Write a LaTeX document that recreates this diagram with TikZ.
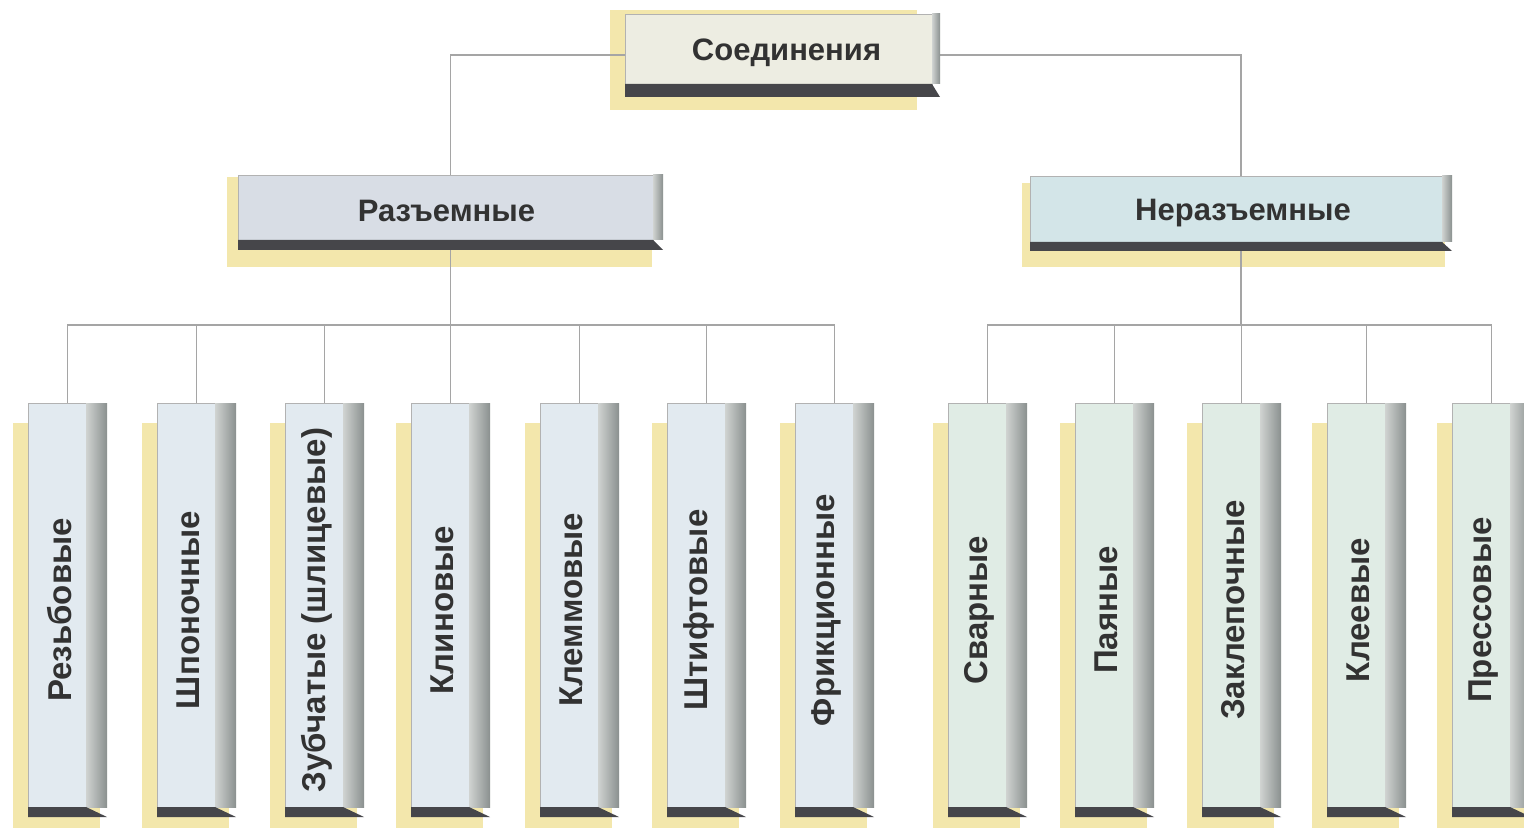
\documentclass[tikz,border=0pt]{standalone}
\usepackage{fontspec}
\setmainfont{Liberation Sans}
\definecolor{shy}{RGB}{243,231,172}
\definecolor{topface}{RGB}{237,237,226}
\definecolor{razface}{RGB}{216,221,229}
\definecolor{nerface}{RGB}{211,229,232}
\definecolor{lface}{RGB}{226,234,240}
\definecolor{rface}{RGB}{224,236,229}
\definecolor{sideL}{RGB}{208,211,209}
\definecolor{sideR}{RGB}{138,144,143}
\definecolor{bev}{RGB}{70,70,74}
\definecolor{connc}{RGB}{165,165,165}
\definecolor{txt}{RGB}{50,50,50}
\pgfdeclarelayer{shadowlayer}
\pgfdeclarelayer{connlayer}
\pgfsetlayers{shadowlayer,connlayer,main}
% #1 name, #2 x1, #3 y1, #4 x2, #5 y2, #6 face colour, #7 side width, #8 bevel height
\newcommand\pbox[8]{%
  \fill[#6, draw=gray!60, line width=0.4pt] (#2,#3) rectangle ({#4-#7},#5);
  \shade[left color=sideL, right color=sideR] ({#4-#7},#3) rectangle (#4,#5);
  \fill[bev] (#2,#5) -- ({#4-#7},#5) -- (#4,{#5+#8}) -- (#2,{#5+#8}) -- cycle;
  \node[inner sep=0pt, minimum width={(#4-#2)*0.5pt}, minimum height={(#5-#3)*0.5pt}] (#1) at ({(#2+#4)/2},{(#3+#5)/2}) {};
}
\newcommand\shad[4]{\begin{pgfonlayer}{shadowlayer}\fill[shy] (#1,#2) rectangle (#3,#4);\end{pgfonlayer}}
\newcommand\colbox[4]{% #1 name, #2 x1, #3 face colour, #4 text
  \shad{#2-15}{423}{#2+72}{830}
  \pbox{#1}{#2}{403}{#2+79}{807}{#3}{21}{10}
  \node[vlbl, rotate=90] (#1t) at ([xshift=-4pt,yshift=-2.5pt]#1.center) {#4};
}
\tikzset{
  lbl/.style={text=txt, font=\bfseries\fontsize{15.5pt}{18pt}\selectfont, inner sep=0pt},
  vlbl/.style={text=txt, font=\bfseries\fontsize{16.5pt}{19pt}\selectfont, inner sep=0pt},
  connector/.style={draw=connc, line width=0.8pt}
}
\begin{document}
\begin{tikzpicture}[x=0.5pt,y=-0.5pt]
\clip (0,0) rectangle (1524,828);
\begin{pgfonlayer}{shadowlayer}
\fill[white] (0,0) rectangle (1524,828);
\end{pgfonlayer}
% top
\shad{610}{10}{917}{110}
\pbox{top}{625}{14}{940}{84}{topface}{8}{13}
\node[lbl] (topt) at ([xshift=2pt,yshift=-2pt]top.center) {Соединения};
% level 2
\shad{227}{177}{652}{267}
\pbox{raz}{238}{175}{663}{240}{razface}{10}{10}
\node[lbl] (razt) at ([xshift=-2pt,yshift=-1.5pt]raz.center) {Разъемные};
\shad{1022}{183}{1445}{267}
\pbox{ner}{1030}{176}{1452}{242}{nerface}{10}{9}
\node[lbl] (nert) at ([xshift=1pt,yshift=-2pt]ner.center) {Неразъемные};
% columns
\colbox{c1}{28}{lface}{Резьбовые}
\colbox{c2}{157}{lface}{Шпоночные}
\colbox{c3}{285}{lface}{Зубчатые (шлицевые)}
\colbox{c4}{411}{lface}{Клиновые}
\colbox{c5}{540}{lface}{Клеммовые}
\colbox{c6}{667}{lface}{Штифтовые}
\colbox{c7}{795}{lface}{Фрикционные}
\colbox{d1}{948}{rface}{Сварные}
\colbox{d2}{1075}{rface}{Паяные}
\colbox{d3}{1202}{rface}{Заклепочные}
\colbox{d4}{1327}{rface}{Клеевые}
\colbox{d5}{1452}{rface}{Прессовые}
% connectors
\coordinate (busL) at (raz.south |- 0,325);
\coordinate (busR) at (ner.south |- 0,325);
\begin{pgfonlayer}{connlayer}
\draw[connector] ([yshift=-3pt]top.west) -| (raz.north);
\draw[connector] ([yshift=-3pt]top.east) -| (ner.north);
\draw[connector] (raz.south) -- (busL);
\draw[connector] (ner.south) -- (busR);
\foreach \n in {c1,c2,c3,c4,c5,c6,c7} \draw[connector] (busL) -| (\n.north);
\foreach \n in {d1,d2,d3,d4,d5} \draw[connector] (busR) -| (\n.north);
\end{pgfonlayer}
\end{tikzpicture}
\end{document}
